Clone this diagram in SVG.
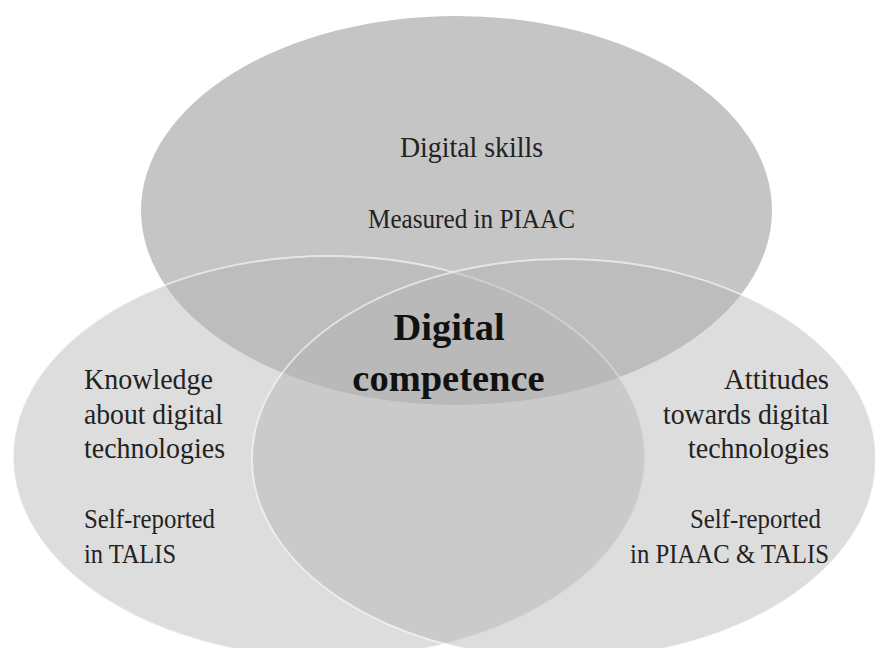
<svg xmlns="http://www.w3.org/2000/svg" width="875" height="648" viewBox="0 0 875 648">
  <style>
    .bg { fill: #ffffff; }
    .top { fill: #c5c5c5; }
    .low { fill: #b4b4b4; fill-opacity: 0.46; stroke: #ffffff; stroke-opacity: 0.6; stroke-width: 1.8; }
    .lbl { font-family: "Liberation Serif", "Times New Roman", serif; font-size: 30px; fill: #222222; }
    .sub { font-family: "Liberation Serif", "Times New Roman", serif; font-size: 26.5px; fill: #222222; }
    .core { font-family: "Liberation Serif", "Times New Roman", serif; font-size: 38.5px; font-weight: bold; fill: #111111; }
  </style>
  <rect class="bg" x="0" y="0" width="875" height="648"/>

  <!-- upper set: skills -->
  <g id="skills">
    <ellipse class="top" cx="456.5" cy="210.5" rx="315.5" ry="194.5"/>
    <text class="lbl" x="400" y="157" textLength="143" lengthAdjust="spacingAndGlyphs">Digital skills</text>
    <text class="sub" x="368" y="228" textLength="207" lengthAdjust="spacingAndGlyphs">Measured in PIAAC</text>
  </g>

  <!-- lower-left set: knowledge -->
  <g id="knowledge">
    <ellipse class="low" cx="329" cy="457" rx="316" ry="201"/>
    <text class="lbl" x="84" y="389" textLength="129" lengthAdjust="spacingAndGlyphs">Knowledge</text>
    <text class="lbl" x="84" y="424" textLength="139" lengthAdjust="spacingAndGlyphs">about digital</text>
    <text class="lbl" x="84" y="458" textLength="141" lengthAdjust="spacingAndGlyphs">technologies</text>
    <text class="sub" x="84" y="528" textLength="131" lengthAdjust="spacingAndGlyphs">Self-reported</text>
    <text class="sub" x="84" y="563" textLength="92" lengthAdjust="spacingAndGlyphs">in TALIS</text>
  </g>

  <!-- lower-right set: attitudes -->
  <g id="attitudes">
    <ellipse class="low" cx="564" cy="459" rx="312" ry="200"/>
    <text class="lbl" x="724" y="389" textLength="105" lengthAdjust="spacingAndGlyphs">Attitudes</text>
    <text class="lbl" x="663" y="424" textLength="166" lengthAdjust="spacingAndGlyphs">towards digital</text>
    <text class="lbl" x="688" y="458" textLength="141" lengthAdjust="spacingAndGlyphs">technologies</text>
    <text class="sub" x="690" y="528" textLength="131" lengthAdjust="spacingAndGlyphs">Self-reported</text>
    <text class="sub" x="630" y="563" textLength="199" lengthAdjust="spacingAndGlyphs">in PIAAC &amp; TALIS</text>
  </g>

  <!-- shared centre -->
  <g id="competence">
    <text class="core" x="449" y="340" text-anchor="middle">Digital</text>
    <text class="core" x="448.5" y="391" text-anchor="middle">competence</text>
  </g>
</svg>
